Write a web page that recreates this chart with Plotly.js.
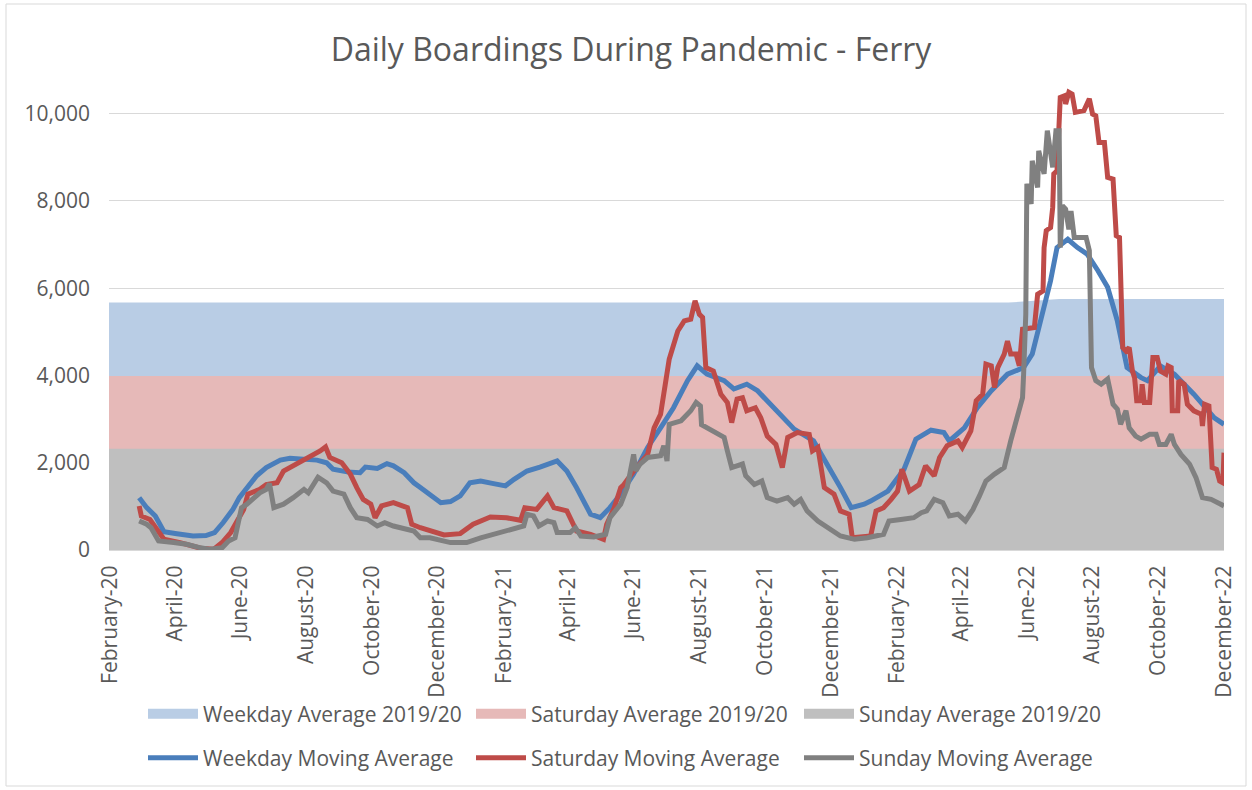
<!DOCTYPE html>
<html>
<head>
<meta charset="utf-8">
<script src="https://cdn.plot.ly/plotly-3.0.1.min.js"></script>
<style>
  html, body { margin: 0; padding: 0; background: #ffffff; }
  #chart { width: 1252px; height: 790px; }
</style>
</head>
<body>
<div id="chart"></div>
<script>
// ---------- DATA ----------
const chartTitle = 'Daily Boardings During Pandemic - Ferry';

// 2019/20 reference averages (background areas)
const weekdayAvgDates  = ['2020-01-31', '2022-05-15', '2022-07-01', '2022-12-01'];
const weekdayAvgValues = [5670, 5670, 5750, 5750];
const saturdayAvgDates  = ['2020-01-31', '2022-12-01'];
const saturdayAvgValues = [3990, 3990];
const sundayAvgDates  = ['2020-01-31', '2022-12-01'];
const sundayAvgValues = [2320, 2320];

// Weekday moving average
const weekdayDates = [
  '2020-02-28','2020-03-06','2020-03-14','2020-03-22','2020-04-03','2020-04-18','2020-04-30','2020-05-08','2020-05-16','2020-05-25',
  '2020-05-31','2020-06-07','2020-06-16','2020-06-25','2020-07-08','2020-07-17','2020-07-30','2020-08-11','2020-08-20','2020-08-26',
  '2020-09-08','2020-09-20','2020-09-25','2020-10-06','2020-10-15','2020-10-21','2020-10-31','2020-11-09','2020-11-15','2020-12-04',
  '2020-12-13','2020-12-22','2020-12-31','2021-01-10','2021-01-22','2021-02-02','2021-02-10','2021-02-22','2021-03-06','2021-03-22',
  '2021-03-31','2021-04-09','2021-04-22','2021-05-01','2021-05-10','2021-05-20','2021-06-01','2021-06-14','2021-06-26','2021-07-08',
  '2021-07-21','2021-07-30','2021-08-08','2021-08-24','2021-09-02','2021-09-14','2021-09-24','2021-10-09','2021-10-28','2021-11-15',
  '2021-11-28','2021-12-10','2021-12-20','2022-01-01','2022-01-07','2022-01-23','2022-02-07','2022-02-18','2022-03-04','2022-03-16',
  '2022-03-21','2022-04-04','2022-04-16','2022-04-29','2022-05-14','2022-05-29','2022-06-06','2022-06-14','2022-06-23','2022-06-29',
  '2022-07-09','2022-07-18','2022-07-27','2022-08-06','2022-08-15','2022-08-24','2022-09-02','2022-09-15','2022-09-21','2022-10-03',
  '2022-10-16','2022-11-03','2022-11-22','2022-12-01'
];
const weekdayValues = [
  1200,970,780,420,374,320,330,400,630,930,
  1200,1430,1700,1890,2060,2100,2080,2060,2000,1850,
  1790,1770,1900,1870,1980,1930,1770,1540,1430,1085,
  1110,1240,1540,1580,1520,1470,1620,1810,1900,2040,
  1810,1430,820,740,970,1280,1740,2350,2800,3260,
  3880,4220,4030,3880,3690,3800,3650,3260,2770,2500,
  1970,1430,970,1050,1120,1350,1850,2540,2745,2690,
  2500,2800,3260,3650,4030,4180,4490,5250,6170,6930,
  7120,6930,6780,6400,6020,5250,4180,3950,3880,4220,
  4030,3570,3030,2880
];

// Saturday moving average
const saturdayDates = [
  '2020-02-28','2020-03-01','2020-03-09','2020-03-15','2020-03-22','2020-04-06','2020-04-25','2020-05-07','2020-05-15','2020-05-23',
  '2020-05-29','2020-06-04','2020-06-08','2020-06-19','2020-06-25','2020-07-05','2020-07-11','2020-07-23','2020-08-05','2020-08-14',
  '2020-08-19','2020-08-23','2020-09-03','2020-09-11','2020-09-17','2020-09-23','2020-09-30','2020-10-04','2020-10-10','2020-10-21',
  '2020-11-03','2020-11-07','2020-11-15','2020-11-24','2020-12-07','2020-12-22','2021-01-03','2021-01-19','2021-02-03','2021-02-16',
  '2021-02-20','2021-03-03','2021-03-13','2021-03-19','2021-03-31','2021-04-09','2021-04-22','2021-05-04','2021-05-07','2021-05-14',
  '2021-05-20','2021-05-23','2021-06-01','2021-06-14','2021-06-20','2021-06-26','2021-06-30','2021-07-04','2021-07-12','2021-07-18',
  '2021-07-24','2021-07-28','2021-08-01','2021-08-04','2021-08-07','2021-08-14','2021-08-21','2021-08-27','2021-08-31','2021-09-05',
  '2021-09-10','2021-09-14','2021-09-22','2021-09-27','2021-10-03','2021-10-11','2021-10-17','2021-10-22','2021-10-31','2021-11-11',
  '2021-11-14','2021-11-19','2021-11-25','2021-12-04','2021-12-10','2021-12-18','2021-12-21','2021-12-31','2022-01-07','2022-01-12',
  '2022-01-19','2022-01-26','2022-02-01','2022-02-05','2022-02-12','2022-02-21','2022-02-27','2022-03-07','2022-03-12','2022-03-19',
  '2022-03-29','2022-04-02','2022-04-10','2022-04-15','2022-04-21','2022-04-24','2022-04-29','2022-05-02','2022-05-05','2022-05-11',
  '2022-05-14','2022-05-17','2022-05-22','2022-05-25','2022-05-28','2022-06-08','2022-06-11','2022-06-16','2022-06-17','2022-06-19',
  '2022-06-23','2022-06-25','2022-06-26','2022-06-29','2022-07-02','2022-07-06','2022-07-07','2022-07-10','2022-07-13','2022-07-16',
  '2022-07-24','2022-07-29','2022-08-01','2022-08-04','2022-08-07','2022-08-12','2022-08-15','2022-08-20','2022-08-23','2022-08-26',
  '2022-08-29','2022-09-01','2022-09-04','2022-09-07','2022-09-09','2022-09-11','2022-09-15','2022-09-16','2022-09-18','2022-09-23',
  '2022-09-26','2022-09-30','2022-10-03','2022-10-08','2022-10-10','2022-10-13','2022-10-14','2022-10-19','2022-10-20','2022-10-25',
  '2022-10-28','2022-11-03','2022-11-10','2022-11-11','2022-11-13','2022-11-17','2022-11-20','2022-11-24','2022-11-27','2022-11-30',
  '2022-12-01'
];
const saturdayValues = [
  1010,780,700,475,245,170,40,15,170,400,
  665,930,1280,1390,1500,1540,1810,1970,2120,2270,
  2360,2120,2000,1740,1430,1160,1050,740,1010,1085,
  970,590,510,435,345,375,590,757,740,680,
  970,930,1240,970,895,435,360,245,590,970,
  1430,1500,1810,2190,2800,3110,3720,4370,5020,5250,
  5290,5710,5400,5330,4180,4100,3570,3380,2920,3460,
  3490,3190,3260,3030,2610,2420,1890,2580,2690,2650,
  2270,2350,1430,1280,895,820,280,320,320,895,
  970,1160,1350,1850,1350,1500,1930,1700,2120,2390,
  2500,2350,2730,3420,3570,4260,4220,3720,4180,4490,
  4790,4490,4490,4220,5060,5100,5860,5940,6930,7320,
  7390,7850,8620,8690,10370,10410,10220,10490,10450,10030,
  10070,10340,9990,9950,9340,9340,8540,8500,7200,7160,
  4640,4560,4640,4100,3950,3420,3420,3800,3380,3380,
  4410,4410,4100,4030,4220,4180,3190,3190,3880,3800,
  3340,3190,3110,2840,3340,3300,1890,1850,1580,1540,
  2230
];

// Sunday moving average
const sundayDates = [
  '2020-02-28','2020-03-06','2020-03-10','2020-03-14','2020-03-17','2020-03-31','2020-04-12','2020-04-25','2020-05-04','2020-05-15',
  '2020-05-21','2020-05-27','2020-05-30','2020-06-02','2020-06-07','2020-06-13','2020-06-19','2020-06-25','2020-06-28','2020-07-02',
  '2020-07-11','2020-07-20','2020-07-30','2020-08-03','2020-08-08','2020-08-12','2020-08-20','2020-08-26','2020-09-05','2020-09-11',
  '2020-09-17','2020-09-27','2020-10-06','2020-10-13','2020-10-21','2020-11-03','2020-11-09','2020-11-15','2020-11-24','2020-12-13',
  '2020-12-28','2021-01-10','2021-01-28','2021-02-10','2021-02-19','2021-02-22','2021-02-28','2021-03-05','2021-03-13','2021-03-19',
  '2021-03-22','2021-04-03','2021-04-08','2021-04-13','2021-04-25','2021-05-06','2021-05-10','2021-05-20','2021-05-26','2021-06-01',
  '2021-06-03','2021-06-07','2021-06-14','2021-06-26','2021-06-29','2021-07-02','2021-07-04','2021-07-15','2021-07-24','2021-07-29',
  '2021-08-02','2021-08-03','2021-08-08','2021-08-16','2021-08-24','2021-08-27','2021-08-31','2021-09-10','2021-09-13','2021-09-21',
  '2021-09-28','2021-10-03','2021-10-12','2021-10-22','2021-10-28','2021-11-03','2021-11-09','2021-11-19','2021-12-01','2021-12-10',
  '2021-12-23','2022-01-04','2022-01-19','2022-01-24','2022-02-04','2022-02-16','2022-02-23','2022-02-28','2022-03-07','2022-03-15',
  '2022-03-21','2022-03-29','2022-04-05','2022-04-12','2022-04-18','2022-04-24','2022-05-02','2022-05-11','2022-05-17','2022-05-23',
  '2022-05-28','2022-05-29','2022-05-31','2022-06-01','2022-06-05','2022-06-06','2022-06-11','2022-06-12','2022-06-17','2022-06-20',
  '2022-06-25','2022-06-28','2022-07-01','2022-07-02','2022-07-04','2022-07-07','2022-07-10','2022-07-12','2022-07-15','2022-07-26',
  '2022-07-29','2022-07-31','2022-08-04','2022-08-09','2022-08-15','2022-08-20','2022-08-24','2022-08-27','2022-09-01','2022-09-04',
  '2022-09-10','2022-09-15','2022-09-23','2022-09-29','2022-10-02','2022-10-08','2022-10-13','2022-10-16','2022-10-22','2022-10-30',
  '2022-11-05','2022-11-11','2022-11-19','2022-11-28','2022-12-01'
];
const sundayValues = [
  665,590,510,320,206,170,130,50,15,50,
  206,280,590,970,1050,1200,1310,1390,1520,970,
  1050,1200,1390,1310,1540,1670,1540,1350,1280,970,
  740,700,550,626,550,475,435,280,280,170,
  170,280,400,475,550,820,780,550,665,626,
  400,400,510,320,300,360,740,1050,1430,2190,
  1810,1970,2120,2160,2390,2040,2880,2960,3190,3380,
  3300,2870,2800,2690,2580,2270,1890,1970,1700,1500,
  1580,1200,1120,1200,1050,1160,895,665,475,320,
  245,280,360,665,700,740,855,895,1160,1085,
  780,820,665,930,1240,1580,1740,1890,2500,3030,
  3490,4030,5400,8390,7930,8920,8310,9150,8620,9610,
  8770,9610,9610,6930,7890,7810,7350,7770,7160,7160,
  6860,4180,3880,3800,3920,3340,3230,2880,3190,2800,
  2610,2540,2650,2650,2420,2420,2650,2420,2190,1970,
  1660,1200,1160,1050,1010
];

// Legend labels / colours
const areaNames  = ['Weekday Average 2019/20', 'Saturday Average 2019/20', 'Sunday Average 2019/20'];
const lineNames  = ['Weekday Moving Average', 'Saturday Moving Average', 'Sunday Moving Average'];
const areaColors = ['#B9CDE5', '#E6B9B8', '#BFBFBF'];
const lineColors = ['#4A7EBB', '#BE4B48', '#808080'];

[['weekday', weekdayDates, weekdayValues], ['saturday', saturdayDates, saturdayValues], ['sunday', sundayDates, sundayValues]]
  .forEach(([n, d, v]) => { if (d.length !== v.length) console.error(n + ' length mismatch', d.length, v.length); });

// ---------- TRACES ----------
const FONT = 'Open Sans, Segoe UI, Arial, sans-serif';
const TXT = '#595959';

const areaSets = [
  [weekdayAvgDates, weekdayAvgValues],
  [saturdayAvgDates, saturdayAvgValues],
  [sundayAvgDates, sundayAvgValues]
];
const lineSets = [
  [weekdayDates, weekdayValues],
  [saturdayDates, saturdayValues],
  [sundayDates, sundayValues]
];

const traces = [];
areaSets.forEach((s, i) => {
  traces.push({
    type: 'scatter', mode: 'none', x: s[0], y: s[1],
    fill: 'tozeroy', fillcolor: areaColors[i],
    name: areaNames[i], legendgroup: 'a' + i, showlegend: false, hoverinfo: 'skip'
  });
});
// legend entries for the areas (swatch style)
areaSets.forEach((s, i) => {
  traces.push({
    type: 'scatter', mode: 'lines', x: [null], y: [null],
    line: { color: areaColors[i], width: 16 },
    name: areaNames[i], legendgroup: 'a' + i, showlegend: true, legend: 'legend', hoverinfo: 'skip'
  });
});
lineSets.forEach((s, i) => {
  traces.push({
    type: 'scatter', mode: 'lines', x: s[0], y: s[1],
    line: { color: lineColors[i], width: 5 },
    name: lineNames[i], showlegend: true, legend: 'legend2'
  });
});

// ---------- LAYOUT ----------
const ML = 109, MR = 28, MT = 70, MB = 240, W = 1252, H = 790;
const PW = W - ML - MR, PH = H - MT - MB;
const px2x = px => (px - ML) / PW;
const px2y = py => (H - MB - py) / PH;

const legendCommon = {
  orientation: 'h', xanchor: 'left', yanchor: 'middle',
  x: px2x(143),
  itemwidth: 50, entrywidth: 263, entrywidthmode: 'pixels',
  font: { family: FONT, size: 21, color: TXT },
  bgcolor: 'rgba(0,0,0,0)', traceorder: 'normal', itemclick: false, itemdoubleclick: false
};

const layout = {
  width: W, height: H,
  margin: { l: ML, r: MR, t: MT, b: MB, autoexpand: false },
  paper_bgcolor: '#ffffff', plot_bgcolor: '#ffffff',
  font: { family: FONT, color: TXT },
  title: {
    text: chartTitle, xref: 'container', yref: 'container',
    x: 0.504, xanchor: 'center', y: 1 - 50 / H, yanchor: 'middle',
    font: { family: FONT, size: 32, color: TXT }
  },
  xaxis: {
    type: 'date',
    range: ['2020-01-31', '2022-12-01'],
    tick0: '2020-02-01', dtick: 'M2', tickformat: '%B-%y',
    tickangle: -90, ticks: '', ticklabelstandoff: 6,
    showgrid: false, zeroline: false,
    showline: true, linecolor: '#D9D9D9', linewidth: 1,
    tickfont: { family: FONT, size: 21, color: TXT }
  },
  yaxis: {
    range: [0, 11000], dtick: 2000, tickformat: ',d',
    showgrid: true, gridcolor: '#D9D9D9', gridwidth: 1,
    zeroline: false, showline: false, ticks: '', ticklabelstandoff: 18,
    tickfont: { family: FONT, size: 21, color: TXT }
  },
  legend: Object.assign({}, legendCommon, { y: px2y(714) }),
  legend2: Object.assign({}, legendCommon, { y: px2y(758) }),
  shapes: [{
    type: 'rect', xref: 'paper', yref: 'paper', layer: 'above',
    x0: px2x(6), x1: px2x(1246), y0: px2y(786), y1: px2y(4),
    line: { color: '#D9D9D9', width: 1 }, fillcolor: 'rgba(0,0,0,0)'
  }],
  showlegend: true,
  hovermode: 'closest'
};

Plotly.newPlot('chart', traces, layout, { displayModeBar: false, responsive: false });
</script>
</body>
</html>
